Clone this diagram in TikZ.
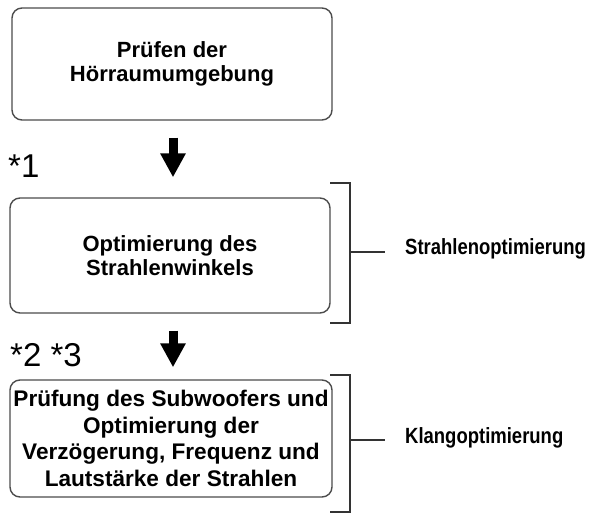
\documentclass[tikz,border=0pt]{standalone}
\usepackage{fontspec}
\setmainfont{Liberation Sans}
\newfontfamily\labelfont[FakeStretch=0.84]{Liberation Sans}
\usetikzlibrary{positioning}
\usetikzlibrary{arrows.meta}

\begin{document}
\begin{tikzpicture}[x=1pt,y=-1pt,
                step box/.style={draw=black!70,line width=1.4pt,rounded corners=10pt,
                  align=center,inner sep=2pt,font=\fontsize{22}{24}\selectfont\bfseries},
                flow arrow/.style={line width=9pt,-{Triangle[width=24pt,length=24pt]}},
                brace line/.style={line width=1.3pt,black!80},
                note/.style={font=\fontsize{33}{36}\selectfont,anchor=west,inner sep=0pt},
                group label/.style={font=\labelfont\fontsize{22}{24}\selectfont\bfseries,anchor=west,inner sep=0pt}]

  \useasboundingbox (0,0) rectangle (590,514);

  \node[step box,minimum width=320pt,minimum height=112pt] (room) at (172,64)
    {Prüfen der\\Hörraumumgebung};
  \node[step box,minimum width=320pt,minimum height=115pt] (angle) at (170,255.5)
    {Optimierung des\\Strahlenwinkels};
  \node[step box,minimum width=322pt,minimum height=117pt,
        font=\fontsize{22.6}{26.5}\selectfont\bfseries] (sound) at (171,438.5)
    {Prüfung des Subwoofers und\\Optimierung der\\Verzögerung, Frequenz und\\Lautstärke der Strahlen};

  \node[note] (n1) at (8,166) {*1};
  \node[note] (n23) at (10,355) {*2 *3};

  \draw[flow arrow,shorten <=17pt,shorten >=20pt] (room.south -| 173,0) -- (angle.north -| 173,0);
  \draw[flow arrow,shorten <=17pt,shorten >=12pt] (angle.south -| 173,0) -- (sound.north -| 173,0);

  % brackets on the right
  \coordinate (b1) at (350,252);
  \coordinate (b2) at (350,440);
  \draw[brace line] (330,183) -- (350,183) -- (350,323) -- (330,323);
  \draw[brace line] (330,375) -- (350,375) -- (350,512) -- (330,512);
  \node[group label] (beam) at (405,249) {Strahlenoptimierung};
  \node[group label] (sonic) at (405,438) {Klangoptimierung};
  \draw[brace line] (b1) -- (b1 -| 385,0);
  \draw[brace line] (b2) -- (b2 -| 385,0);

\end{tikzpicture}
\end{document}
